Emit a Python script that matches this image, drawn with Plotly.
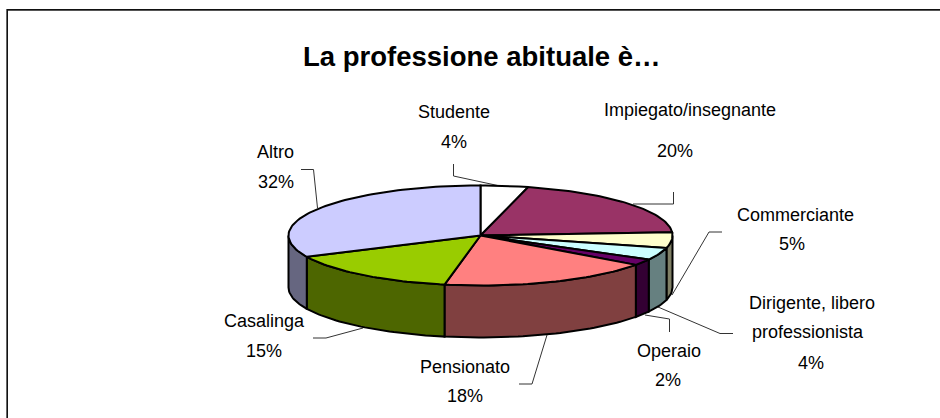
import math
import plotly.graph_objects as go

# ---- data ----
categories = ["Studente", "Impiegato/insegnante", "Commerciante",
              "Dirigente, libero professionista", "Operaio", "Pensionato",
              "Casalinga", "Altro"]
values = [4, 20, 5, 4, 2, 18, 15, 32]
top_colors = ["#FFFFFF", "#993366", "#FFFFCC", "#CCFFFF", "#660066", "#FF8080", "#99CC00", "#CCCCFF"]
side_colors = ["#808080", "#4D1A33", "#808066", "#668080", "#330033", "#804040", "#4D6600", "#666680"]
title = "La professione abituale è…"

# ---- layout geometry (page pixels) ----
W, H = 940, 418
CX, CY, RX, RY, DEPTH = 480.5, 235.5, 192, 50, 52
FONT = "Liberation Sans"

# label lines for each category: (text or None for the percentage, x, y)
label_lines = {
    "Studente": [("Studente", 453.5, 112), (None, 454, 142)],
    "Impiegato/insegnante": [("Impiegato/insegnante", 689.5, 110), (None, 675, 151)],
    "Commerciante": [("Commerciante", 795, 215), (None, 792, 244)],
    "Dirigente, libero professionista": [("Dirigente, libero", 812, 303), ("professionista", 808, 332), (None, 811, 363)],
    "Operaio": [("Operaio", 669, 351), (None, 668, 380)],
    "Pensionato": [("Pensionato", 465, 367), (None, 465, 396)],
    "Casalinga": [("Casalinga", 264, 321), (None, 264, 351)],
    "Altro": [("Altro", 275, 152), (None, 276, 182)],
}
leaders = [
    [(301, 169.5), (313.5, 169.5), (317.5, 208)],
    [(453.5, 164), (453.5, 176), (500, 186)],
    [(673.5, 192), (673.5, 204), (633, 204)],
    [(722, 232), (709, 232), (672, 295)],
    [(733, 333.5), (720, 333.5), (658, 307)],
    [(669.5, 332), (669.5, 319), (645, 315)],
    [(313, 338), (326, 338), (363, 328)],
    [(519, 384), (532, 384), (547, 335)],
]


def pt(deg, dy=0.0):
    a = math.radians(deg)
    return CX + RX * math.sin(a), CY - RY * math.cos(a) + dy


def arc(a0, a1, dy=0.0):
    n = max(2, int(abs(a1 - a0) / 1.5) + 2)
    return [pt(a0 + (a1 - a0) * i / (n - 1), dy) for i in range(n)]


fig = go.Figure()
total = sum(values)
bounds = []
acc = 0
for v in values:
    bounds.append((acc / total * 360, (acc + v) / total * 360))
    acc += v


def add_poly(pts, color):
    fig.add_trace(go.Scatter(
        x=[p[0] for p in pts], y=[p[1] for p in pts], mode="lines",
        fill="toself", fillcolor=color,
        line=dict(color="#000000", width=2), hoverinfo="skip", showlegend=False))


# side walls: only the front half (90..270 deg) is visible
for (a0, a1), color in zip(bounds, side_colors):
    s, e = max(a0, 90), min(a1, 270)
    if e > s:
        add_poly(arc(s, e) + arc(e, s, DEPTH) + [pt(s)], color)

# top faces
for (a0, a1), color in zip(bounds, top_colors):
    add_poly([(CX, CY)] + arc(a0, a1) + [(CX, CY)], color)

annotations = [dict(x=482, y=56, text="<b>%s</b>" % title, showarrow=False,
                    font=dict(family=FONT, size=27.5, color="#000000"),
                    xanchor="center", yanchor="middle")]
for cat, val in zip(categories, values):
    for text, x, y in label_lines[cat]:
        annotations.append(dict(x=x, y=y, text=text if text else "%d%%" % val,
                                showarrow=False, xanchor="center", yanchor="middle",
                                font=dict(family=FONT, size=18, color="#000000")))

shapes = []
for path in leaders:
    for p, q in zip(path, path[1:]):
        shapes.append(dict(type="line", x0=p[0], y0=p[1], x1=q[0], y1=q[1],
                           xref="x", yref="y", layer="below",
                           line=dict(color="#333333", width=1)))
# chart frame: runs off the right and bottom of the picture
shapes += [
    dict(type="line", x0=7, y0=9.5, x1=W, y1=9.5, xref="x", yref="y", line=dict(color="#111111", width=1)),
    dict(type="line", x0=7, y0=10.5, x1=W, y1=10.5, xref="x", yref="y", line=dict(color="#555555", width=1)),
    dict(type="line", x0=7.5, y0=9, x1=7.5, y1=H, xref="x", yref="y", line=dict(color="#111111", width=1)),
    dict(type="line", x0=6.5, y0=9, x1=6.5, y1=H, xref="x", yref="y", line=dict(color="#666666", width=1)),
]

fig.update_layout(
    width=W, height=H, margin=dict(l=0, r=0, t=0, b=0),
    paper_bgcolor="#FFFFFF", plot_bgcolor="#FFFFFF", showlegend=False,
    xaxis=dict(range=[0, W], visible=False, fixedrange=True),
    yaxis=dict(range=[H, 0], visible=False, fixedrange=True),
    annotations=annotations, shapes=shapes,
)

fig.write_html("out.html", config={"displayModeBar": False},
               post_script="document.body.style.margin='0';document.body.style.overflow='hidden';")
